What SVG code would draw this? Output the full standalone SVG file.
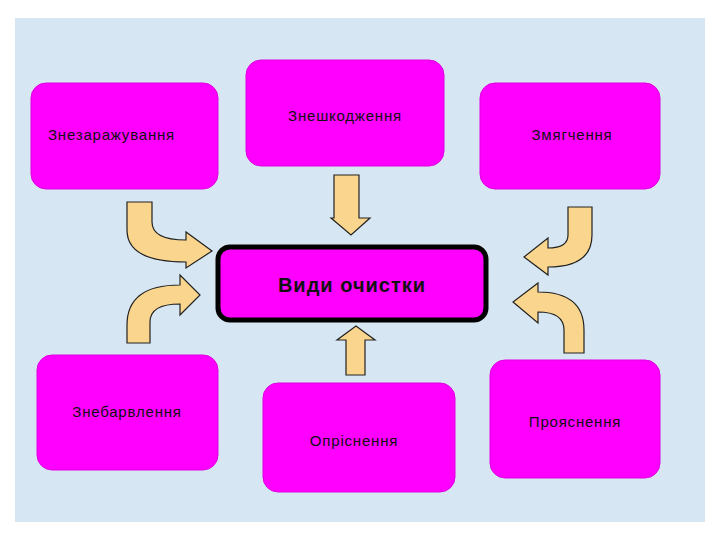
<svg xmlns="http://www.w3.org/2000/svg" width="720" height="540" viewBox="0 0 720 540">
<style>
.n{fill:#ff00ff;stroke:#e000e0;stroke-width:1}
.t{font-family:"Liberation Sans",Arial,sans-serif;font-size:15px;fill:#111;letter-spacing:0.8px}
.a{fill:#fad58e;stroke:#222;stroke-width:1.2}
</style>
<rect width="720" height="540" fill="#ffffff"/>
<rect x="15" y="18" width="690" height="504" fill="#d6e7f3"/>
<g id="connectors">
<path class="a" d="M127,202 L152,202 L152,222 Q152,240 186,240 L186,232 L212,251 L186,268 L186,262 Q127,262 127,230 Z"/>
<path class="a" d="M127,343 L150,343 L150,322 Q150,304 180,304 L180,315 L200,295 L180,275 L180,285 Q127,285 127,325 Z"/>
<path class="a" d="M568,207 L592,207 L592,235 Q592,267 548,267 L548,275 L524,257 L548,238 L548,248 Q568,248 568,235 Z"/>
<path class="a" d="M564,353 L584,353 L584,330 Q584,292 538,292 L538,283 L513,302 L538,323 L538,312 Q564,312 564,330 Z"/>
<path class="a" d="M334,175 L359,175 L359,218 L370,218 L351,235 L331,218 L334,218 Z"/>
<path class="a" d="M346,375 L365,375 L365,340 L375,340 L356,326 L337,340 L346,340 Z"/>
</g>
<g id="center"><rect x="218" y="247" width="268" height="73" rx="12" fill="#ff00ff" stroke="#000" stroke-width="5"/>
<text x="352" y="292" text-anchor="middle" font-family="Liberation Sans,Arial,sans-serif" font-weight="bold" font-size="20" fill="#111" letter-spacing="1">Види очистки</text></g>
<g id="n1"><rect class="n" x="31" y="83" width="187" height="106" rx="15"/><text class="t" x="48" y="140">Знезаражування</text></g>
<g id="n2"><rect class="n" x="246" y="60" width="198" height="106" rx="15"/><text class="t" x="345" y="121" text-anchor="middle">Знешкодження</text></g>
<g id="n3"><rect class="n" x="480" y="83" width="180" height="106" rx="15"/><text class="t" x="572" y="140" text-anchor="middle">Змягчення</text></g>
<g id="n4"><rect class="n" x="37" y="355" width="181" height="115" rx="15"/><text class="t" x="127" y="417" text-anchor="middle">Знебарвлення</text></g>
<g id="n5"><rect class="n" x="263" y="383" width="192" height="109" rx="15"/><text class="t" x="354" y="446" text-anchor="middle">Опріснення</text></g>
<g id="n6"><rect class="n" x="490" y="360" width="170" height="118" rx="15"/><text class="t" x="575" y="427" text-anchor="middle">Прояснення</text></g>
</svg>
